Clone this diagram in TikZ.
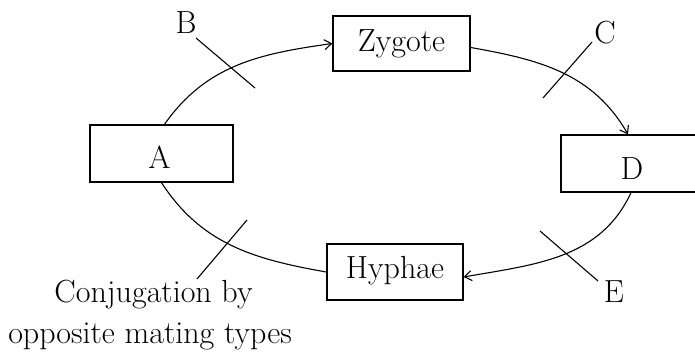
\documentclass[tikz,border=0pt]{standalone}
\usetikzlibrary{arrows.meta,calc}
\begin{document}
\begin{tikzpicture}[x=1pt,y=1pt,
  font=\fontsize{32}{38}\selectfont,
  box/.style={draw,line width=1.3pt,inner sep=0pt},
  flow/.style={line width=1.1pt},
  arr/.style={flow,-{Straight Barb[length=7pt,width=10pt,line width=1.1pt]}},
  tick/.style={line width=1.1pt},
  lbl/.style={inner sep=0pt}]
\useasboundingbox (0,0) rectangle (695,-351);
\clip (0,0) rectangle (695,-351);
% boxes
\node[box,minimum width=143pt,minimum height=57pt,label={[lbl,xshift=-2pt,yshift=-3.5pt]center:A}] (A) at (161.5,-153.5) {};
\node[box,minimum width=137pt,minimum height=55pt,label={[lbl,yshift=0pt]center:Zygote}] (Z) at (401.5,-43.5) {};
\node[box,minimum width=140pt,minimum height=57pt,label={[lbl,xshift=1pt,yshift=-5pt]center:D}] (D) at (631,-163.5) {};
\node[box,minimum width=136pt,minimum height=56pt,label={[lbl,yshift=1pt]center:Hyphae}] (H) at (395,-272) {};
% cycle
\draw[arr] ([xshift=3pt]A.north) to[out=55,in=188] (Z.west);
\draw[arr] ([yshift=-4pt]Z.east) to[out=-10,in=120] ([xshift=-3pt]D.north);
\draw[arr] (D.south) to[out=-115,in=10] ([yshift=-5pt]H.east);
\draw[flow] (A.south) to[out=-57,in=170] (H.west);
% labels and ticks
\node[lbl] (lB) at (186,-23) {B};
\node[lbl] (lC) at (605,-33) {C};
\node[lbl] (lE) at (614,-292) {E};
\node[lbl,anchor=base] (conj1) at (153.5,-302) {Conjugation by};
\node[lbl,anchor=base] (conj2) at (150,-343) {opposite mating types};
\coordinate (b1) at (196,-38); \coordinate (b2) at (255,-88);
\coordinate (c1) at (543,-98); \coordinate (c2) at (592,-42);
\coordinate (e1) at (540,-231); \coordinate (e2) at (598,-281);
\coordinate (g1) at (197,-279); \coordinate (g2) at (247,-220);
\draw[tick] (b1) -- (b2);
\draw[tick] (c1) -- (c2);
\draw[tick] (e1) -- (e2);
\draw[tick] (g1) -- (g2);
\end{tikzpicture}
\end{document}
